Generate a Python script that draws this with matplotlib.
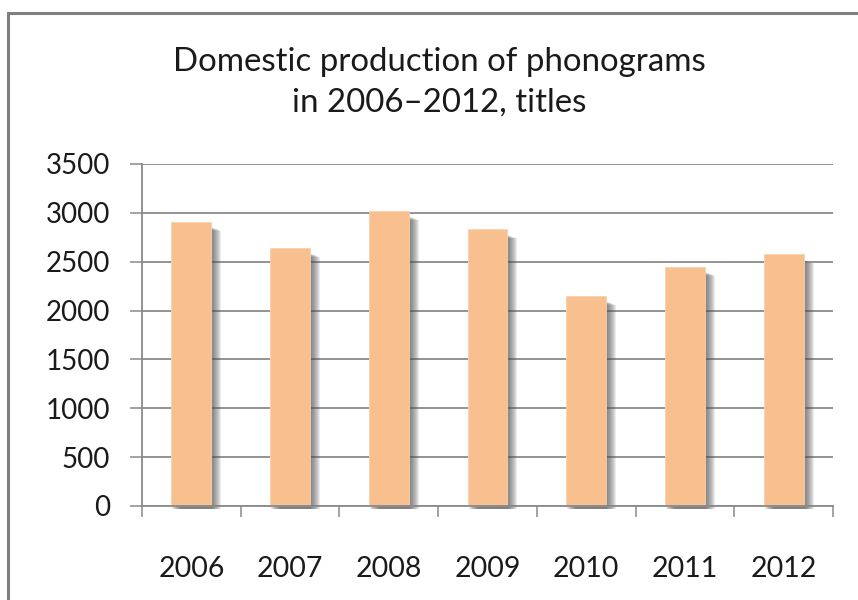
import numpy as np
import matplotlib.pyplot as plt
from matplotlib.patches import Rectangle

# Domestic phonogram titles per year
years = ["2006", "2007", "2008", "2009", "2010", "2011", "2012"]
titles = [2910, 2640, 3020, 2830, 2150, 2450, 2575]
y_ticks = [0, 500, 1000, 1500, 2000, 2500, 3000, 3500]

plt.rcParams['font.family'] = ['Lato', 'DejaVu Sans']

fig = plt.figure(figsize=(8.58, 6), dpi=100)
ax = fig.add_axes([142 / 858, 94 / 600, 691 / 858, 342 / 600])

x = np.arange(len(years))
bar_w = 0.405
px = 1.0 / 98.7          # one pixel in x data units
py = 3500 / 342.0        # one pixel in y data units

# soft drop shadow to the right of each bar
for k in range(1, 11):
    ax.bar(x + k * px, np.array(titles) - (2 + 0.4 * k) * py, width=bar_w,
           bottom=-3 * py, color="#505050", alpha=0.11, linewidth=0,
           zorder=2, clip_on=False)

ax.bar(x, titles, width=bar_w, color="#F8C08F", edgecolor="#FAD2AE",
       linewidth=0.6, zorder=3)

ax.set_xlim(-0.5, len(years) - 0.5)
ax.set_ylim(0, 3500)
ax.set_yticks(y_ticks)
ax.yaxis.grid(True, color="#8a8a8a", linewidth=1.3)
ax.set_axisbelow(True)

ax.set_xticks(x)
ax.set_xticklabels(years)
ax.set_xticks(np.arange(-0.5, len(years)), minor=True)
ax.tick_params(axis="x", which="major", length=0, pad=36, labelsize=20.5,
               labelcolor="#1a1a1a")
ax.tick_params(axis="x", which="minor", length=8, width=1.1, color="#8a8a8a",
               direction="out")
ax.tick_params(axis="y", length=9, width=1.1, color="#8a8a8a", pad=14,
               labelsize=20, labelcolor="#1a1a1a")

for side in ["top", "right"]:
    ax.spines[side].set_visible(False)
for side in ["left", "bottom"]:
    ax.spines[side].set_color("#8a8a8a")
    ax.spines[side].set_linewidth(1.3)
    ax.spines[side].set_zorder(4)

fig.text(439 / 858, 1 - 62 / 600, "Domestic production of phonograms",
         ha="center", va="center", fontsize=23.8, color="#1a1a1a")
fig.text(439 / 858, 1 - 103 / 600, "in 2006\u20132012, titles",
         ha="center", va="center", fontsize=23.8, color="#1a1a1a")

# chart frame, running off the right and bottom edges
fig.patches.append(Rectangle((8 / 858, -0.1), 1.0, 1 - 13 / 600 + 0.1,
                             transform=fig.transFigure, fill=False,
                             edgecolor="#7f7f7f", linewidth=2.2))

fig.savefig("out.png", dpi=100)
